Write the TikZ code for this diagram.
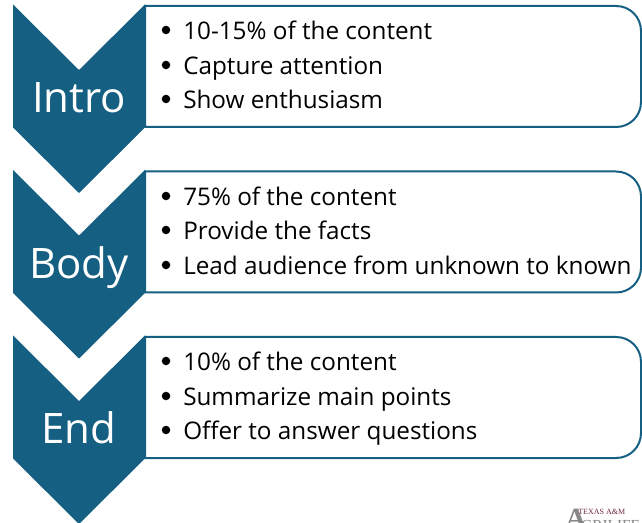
\documentclass[tikz,border=0pt]{standalone}
\usepackage{fontspec}
\setmainfont{Open Sans}
\newfontfamily\logofont{Liberation Serif}
\definecolor{tealblue}{RGB}{21,96,130}
\definecolor{logomaroon}{RGB}{110,40,60}
\definecolor{logogray}{RGB}{135,135,135}
\tikzset{
	sectionbox/.style={draw=tealblue,line width=1.5pt,fill=white},
	chevron/.style={fill=tealblue,draw=none},
	sectionlabel/.style={anchor=base,inner sep=0.75pt,text=white,font=\fontsize{31.5}{36}\selectfont},
	listitem/.style={anchor=base west,inner sep=0pt,text=black,font=\fontsize{18.2}{21}\selectfont},
	listbullet/.style={circle,fill=black,inner sep=0pt,minimum size=6.4pt}
}
\begin{document}
\begin{tikzpicture}[x=0.75pt,y=0.75pt,yscale=-1,xscale=1]
	\useasboundingbox (0,0) rectangle (642,523);
	\clip (0,0) rectangle (642,523);
	
	%Rounded boxes
	\draw [sectionbox] (145,6) -- (616,6) .. controls (630,6) and (641,17) .. (641,31) -- (641,102) .. controls (641,116) and (630,127) .. (616,127) -- (145,127) -- cycle ;
	\draw [sectionbox] (145,171.5) -- (616,171.5) .. controls (630,171.5) and (641,182.5) .. (641,196.5) -- (641,267.5) .. controls (641,281.5) and (630,292.5) .. (616,292.5) -- (145,292.5) -- cycle ;
	\draw [sectionbox] (145,337) -- (616,337) .. controls (630,337) and (641,348) .. (641,362) -- (641,433) .. controls (641,447) and (630,458) .. (616,458) -- (145,458) -- cycle ;
	
	%Chevrons
	\draw [chevron] (13,4.5) -- (79,70) -- (145,4.5) -- (145,127.5) -- (79,193) -- (13,127.5) -- cycle ;
	\draw [chevron] (13,170) -- (79,235.5) -- (145,170) -- (145,293) -- (79,358.5) -- (13,293) -- cycle ;
	\draw [chevron] (13,335.5) -- (79,401) -- (145,335.5) -- (145,458.5) -- (79,524) -- (13,458.5) -- cycle ;
	
	% Text Node
	\draw (79,113) node [sectionlabel] (intro) {Intro};
	% Text Node
	\draw (79,278.5) node [sectionlabel] (body) {Body};
	% Text Node
	\draw (79,444) node [sectionlabel] (end) {End};
	
	% Bullets
	\draw (166,30) node [listbullet] (b1) {};
	\draw (166,65) node [listbullet] (b2) {};
	\draw (166,99) node [listbullet] (b3) {};
	\draw (166,196) node [listbullet] (b4) {};
	\draw (166,230) node [listbullet] (b5) {};
	\draw (166,265) node [listbullet] (b6) {};
	\draw (166,361) node [listbullet] (b7) {};
	\draw (166,396) node [listbullet] (b8) {};
	\draw (166,430) node [listbullet] (b9) {};
	
	% Text Node
	\draw (183,40) node [listitem] (t1) {10-15\% of the content};
	% Text Node
	\draw (183,74.2) node [listitem] (t2) {Capture attention};
	% Text Node
	\draw (183,108.4) node [listitem] (t3) {Show enthusiasm};
	% Text Node
	\draw (183,205.5) node [listitem] (t4) {75\% of the content};
	% Text Node
	\draw (183,239.7) node [listitem] (t5) {Provide the facts};
	% Text Node
	\draw (183,274.2) node [listitem] (t6) {Lead audience from unknown to known};
	% Text Node
	\draw (183,371) node [listitem] (t7) {10\% of the content};
	% Text Node
	\draw (183,405.2) node [listitem] (t8) {Summarize main points};
	% Text Node
	\draw (183,439.2) node [listitem] (t9) {Offer to answer questions};
	
	% Logo, cut off by the lower edge
	\draw (565,528) node [anchor=base west,inner sep=0pt,text=logogray,font=\logofont\bfseries\fontsize{22}{22}\selectfont] (logoa) {A};
	\draw (581,530) node [anchor=base west,inner sep=0pt,text=logogray,font=\logofont\fontsize{11.5}{12}\selectfont] (logoc) {GRILIFE};
	\draw (578,514.5) node [anchor=base west,inner sep=0pt,text=logomaroon,font=\logofont\fontsize{6}{7}\selectfont] (logob) {TEXAS A\&M};
\end{tikzpicture}
\end{document}
